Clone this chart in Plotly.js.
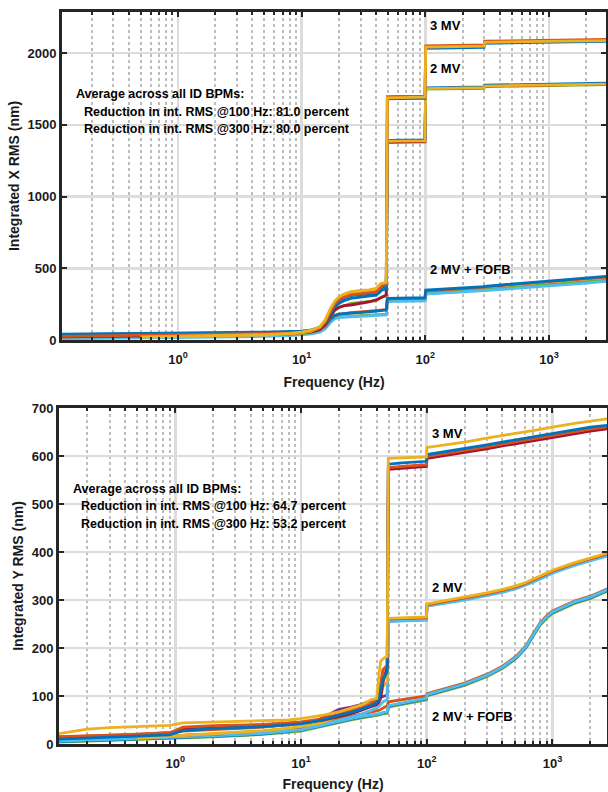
<!DOCTYPE html>
<html><head><meta charset="utf-8">
<script src="https://cdn.plot.ly/plotly-3.0.1.min.js"></script>
<style>html,body{margin:0;padding:0;background:#fff}#chart{width:608px;height:792px}</style>
</head><body><div id="chart"></div>
<script>
// ---------- X plane (top) ----------
const fx = [0.116, 0.2, 0.5, 1, 2, 5, 8, 10, 12, 14, 15.5, 17, 18.5, 20, 22, 25, 30, 35, 40, 43, 45, 48.3, 49.3, 60, 80, 99.3, 100.7, 150, 200, 298, 302, 500, 1000, 2000, 3000];

const x3Blue   = [40, 43, 46, 49, 52, 55, 58, 62, 70, 88, 125, 190, 245, 275, 295, 310, 316, 320, 325, 350, 370, 375, 1680, 1682, 1683, 1684, 2032, 2035, 2037, 2040, 2068, 2071, 2075, 2079, 2082];
const x3Orange = [25, 28, 31, 34, 38, 43, 48, 55, 65, 85, 125, 195, 250, 280, 300, 315, 322, 328, 335, 360, 380, 388, 1696, 1698, 1699, 1700, 2050, 2052, 2054, 2056, 2083, 2086, 2089, 2092, 2095];
const x3Yellow = [null, null, 22, 26, 31, 38, 46, 55, 68, 92, 140, 215, 270, 300, 320, 337, 345, 350, 360, 390, 397, 400, 1688, 1690, 1691, 1692, 2042, 2044, 2046, 2048, 2075, 2078, 2081, 2084, 2087];

const x2Blue   = [30, 33, 36, 40, 43, 47, 52, 58, 66, 84, 120, 180, 230, 255, 275, 290, 298, 305, 312, 335, 350, 355, 1390, 1392, 1393, 1394, 1758, 1760, 1762, 1764, 1776, 1779, 1783, 1787, 1790];
const x2Green  = [20, 22, 25, 28, 32, 36, 40, 45, 52, 68, 100, 160, 205, 225, 240, 255, 262, 268, 275, 290, 300, 305, 1375, 1377, 1378, 1379, 1748, 1750, 1752, 1754, 1766, 1769, 1773, 1777, 1780];
const x2Red    = [22, 24, 27, 30, 34, 38, 43, 48, 56, 72, 105, 165, 210, 228, 240, 244, 255, 265, 279, 292, 302, 314, 1380, 1382, 1383, 1384, 1752, 1754, 1756, 1758, 1770, 1773, 1777, 1781, 1784];
const x2Yellow = [null, null, 20, 24, 29, 35, 42, 50, 62, 85, 130, 205, 260, 290, 310, 325, 333, 340, 350, 378, 390, 395, 1384, 1386, 1387, 1388, 1752, 1754, 1756, 1758, 1770, 1773, 1777, 1780, 1783];

const xfGreen  = [15, 17, 20, 23, 27, 31, 35, 40, 47, 60, 82, 125, 152, 160, 165, 167, 170, 172, 175, 178, 180, 181, 272, 274, 276, 278, 328, 335, 342, 350, 352, 366, 385, 404, 418];
const xfCyan   = [8, 10, 13, 16, 20, 25, 30, 35, 42, 55, 78, 120, 148, 156, 160, 162, 165, 167, 169, 172, 174, 175, 267, 269, 271, 273, 320, 328, 335, 343, 345, 358, 376, 396, 411];
const xfOrange = [28, 30, 33, 36, 39, 43, 47, 52, 59, 73, 96, 140, 168, 178, 184, 190, 195, 200, 205, 208, 210, 212, 286, 288, 290, 292, 343, 350, 358, 368, 370, 386, 406, 426, 438];
const xfBlue   = [38, 40, 42, 44, 46, 48, 51, 55, 62, 76, 100, 145, 172, 180, 184, 186, 190, 196, 202, 206, 208, 210, 290, 292, 294, 296, 348, 355, 362, 372, 374, 390, 412, 432, 445];

// ---------- Y plane (bottom) ----------
const fy = [0.116, 0.2, 0.3, 0.5, 0.9, 1.15, 2, 5, 8, 10, 15, 20, 25, 30, 36, 40, 41.5, 43, 45, 48.5, 49.5, 60, 80, 99.3, 100.7, 150, 200, 300, 400, 520, 620, 700, 800, 900, 1000, 1500, 2000, 3000];

const yfGreen  = [4, 6, 7, 9, 11, 13, 15, 20, 24, 27, 37, 45, 50, 54, 57, 59, 60, 61, 63, 64, 77, 81, 87, 92, 100, 112, 122, 140, 157, 179, 201, 224, 248, 262, 272, 293, 303, 323];
const yfBlue   = [5, 7, 8, 10, 12, 14, 16, 21, 26, 29, 39, 47, 52, 56, 59, 61, 62, 63, 65, 66, 79, 83, 89, 94, 102, 114, 124, 142, 159, 181, 203, 226, 250, 264, 274, 295, 305, 325];
const yfRed    = [9, 11, 12, 14, 16, 18, 20, 26, 31, 34, 45, 53, 58, 62, 66, 69, 70, 72, 75, 80, 88, 91, 96, 100, 105, 117, 127, 145, 162, 184, 206, 229, 253, 267, 277, 298, 308, 328];
const yfCyan   = [6, 8, 9, 11, 13, 15, 17, 22, 27, 30, 40, 48, 53, 57, 60, 62, 63, 64, 66, 67, 80, 84, 90, 95, 103, 115, 125, 143, 160, 182, 204, 227, 251, 265, 275, 296, 306, 326];

const y2Purple = [10, 12, 13, 14, 16, 17, 20, 25, 30, 33, 55, 72, 77, 82, 90, 94, 96, 98, 100, 102, 256, 257, 258, 259, 288, 296, 302, 311, 318, 326, 333, 339, 346, 352, 358, 374, 383, 397];
const y2Cyan   = [7, 9, 11, 15, 17, 18, 20, 24, 28, 30, 40, 50, 56, 62, 70, 75, 78, 82, 88, 92, 255, 256, 257, 258, 287, 294, 300, 309, 316, 324, 331, 337, 344, 350, 356, 372, 381, 395];
const y2Orange = [15, 17, 18, 20, 24, 27, 30, 35, 40, 43, 52, 62, 70, 75, 82, 88, 95, 125, 155, 162, 260, 261, 262, 263, 290, 298, 304, 313, 320, 328, 335, 341, 348, 354, 360, 376, 385, 399];
const y2Yellow = [null, null, null, 12, 16, 19, 22, 28, 33, 36, 45, 58, 66, 72, 82, 88, 92, 100, 120, 130, 262, 263, 264, 265, 292, 300, 306, 315, 322, 330, 337, 343, 350, 356, 362, 378, 387, 401];

const y3Red    = [12, 14, 16, 18, 22, 33, 36, 39, 42, 44, 50, 57, 63, 70, 78, 82, 86, 95, 130, 160, 572, 574, 576, 578, 595, 602, 607, 615, 621, 626, 629, 632, 634, 637, 639, 647, 652, 658];
const y3Orange = [14, 16, 18, 20, 23, 35, 38, 41, 44, 46, 53, 62, 68, 74, 84, 90, 96, 120, 155, 164, 576, 578, 580, 582, 599, 606, 611, 619, 625, 630, 633, 636, 638, 641, 643, 651, 656, 662];
const y3Blue   = [10, 12, 14, 16, 19, 28, 32, 36, 40, 42, 50, 60, 66, 72, 80, 86, 92, 110, 135, 150, 583, 585, 587, 589, 603, 610, 615, 623, 629, 634, 637, 640, 642, 645, 647, 655, 660, 665];
const y3Yellow = [21, 31, 34, 36, 39, 44, 46, 48, 50, 53, 60, 67, 75, 81, 92, 95, 140, 172, 178, 182, 595, 596, 597, 598, 618, 624, 629, 637, 643, 648, 651, 653, 656, 658, 660, 668, 673, 679];

// tick labels
const majorVals = [1, 10, 100, 1000];
const majorText = ['10<sup>0</sup>', '10<sup>1</sup>', '10<sup>2</sup>', '10<sup>3</sup>'];
const yTopTicks = [0, 500, 1000, 1500, 2000];
const yBotTicks = [0, 100, 200, 300, 400, 500, 600, 700];

const C = {B:'#0072BD', O:'#D95319', Y:'#EDB120', P:'#7E2F8E', G:'#77AC30', C:'#4DBEEE', R:'#A2142F'};
const LW = 2.8;
function tr(x, y, col, xa, ya) {
  return {x: x, y: y, type: 'scatter', mode: 'lines', xaxis: xa, yaxis: ya,
          line: {color: col, width: LW}, connectgaps: false, hoverinfo: 'skip', showlegend: false};
}
const data = [
  tr(fx, xfGreen, C.G, 'x', 'y'), tr(fx, xfCyan, C.C, 'x', 'y'), tr(fx, xfOrange, C.O, 'x', 'y'), tr(fx, xfBlue, C.B, 'x', 'y'),
  tr(fx, x2Green, C.G, 'x', 'y'), tr(fx, x2Red, C.R, 'x', 'y'), tr(fx, x2Blue, C.B, 'x', 'y'), tr(fx, x2Yellow, C.Y, 'x', 'y'),
  tr(fx, x3Blue, C.B, 'x', 'y'), tr(fx, x3Orange, C.O, 'x', 'y'), tr(fx, x3Yellow, C.Y, 'x', 'y'),
  tr(fy, yfGreen, C.G, 'x2', 'y2'), tr(fy, yfBlue, C.B, 'x2', 'y2'), tr(fy, yfRed, C.O, 'x2', 'y2'), tr(fy, yfCyan, C.C, 'x2', 'y2'),
  tr(fy, y2Purple, C.P, 'x2', 'y2'), tr(fy, y2Cyan, C.C, 'x2', 'y2'), tr(fy, y2Orange, C.O, 'x2', 'y2'), tr(fy, y2Yellow, C.Y, 'x2', 'y2'),
  tr(fy, y3Red, C.R, 'x2', 'y2'), tr(fy, y3Orange, C.O, 'x2', 'y2'), tr(fy, y3Blue, C.B, 'x2', 'y2'), tr(fy, y3Yellow, C.Y, 'x2', 'y2')
];

const minorVals = [];
[0.1, 1, 10, 100, 1000].forEach(d => { for (let k = 2; k <= 9; k++) minorVals.push(d * k); });

const W = 608, H = 792;
const FONT = 'Liberation Sans, Arial, Helvetica, sans-serif';
const AX = '#262626';
function xax(dom, rng, anchor) {
  return {type: 'log', domain: dom, range: rng, anchor: anchor,
    tickmode: 'array', tickvals: majorVals, ticktext: majorText,
    ticks: 'inside', ticklen: 5, tickwidth: 2, tickcolor: AX, ticklabelstandoff: 5,
    showline: true, linecolor: AX, linewidth: 3, mirror: 'ticks',
    showgrid: true, gridcolor: '#dcdcdc', gridwidth: 2.5, zeroline: false,
    minor: {tickmode: 'array', tickvals: minorVals, ticks: 'inside', ticklen: 3, tickwidth: 2, tickcolor: AX,
            showgrid: true, gridcolor: '#bdbdbd', gridwidth: 2, griddash: 'dot'},
    tickfont: {family: FONT, size: 13, color: '#1a1a1a', weight: 'bold'},
    title: {text: 'Frequency (Hz)', font: {family: FONT, size: 14, color: '#1a1a1a', weight: 'bold'}, standoff: 12}
  };
}
function yax(dom, rng, ticks, anchor, label) {
  return {domain: dom, range: rng, anchor: anchor,
    tickmode: 'array', tickvals: ticks,
    ticks: 'inside', ticklen: 5, tickwidth: 2, tickcolor: AX,
    showline: true, linecolor: AX, linewidth: 3, mirror: 'ticks',
    showgrid: true, gridcolor: '#dcdcdc', gridwidth: 2.5, zeroline: false,
    tickfont: {family: FONT, size: 13, color: '#1a1a1a', weight: 'bold'},
    title: {text: label, font: {family: FONT, size: 14, color: '#1a1a1a', weight: 'bold'}, standoff: 5}
  };
}
function ann(text, x, y, xref, yref, size) {
  return {text: text, x: x, y: y, xref: xref, yref: yref, xanchor: 'left', yanchor: 'middle', showarrow: false,
          font: {family: FONT, size: size || 12.5, color: '#000', weight: 'bold'}};
}
const L = Math.log10;
const layout = {
  width: W, height: H, margin: {l: 0, r: 0, t: 0, b: 0},
  paper_bgcolor: '#fff', plot_bgcolor: '#fff', showlegend: false,
  font: {family: FONT, color: '#1a1a1a'},
  xaxis: xax([62 / W, 606 / W], [-0.938, 3.461], 'y'),
  yaxis: yax([1 - 340 / H, 1 - 12 / H], [0, 2286], yTopTicks, 'x', 'Integrated X RMS (nm)'),
  xaxis2: xax([59 / W, 607 / W], [-0.925, 3.434], 'y2'),
  yaxis2: yax([1 - 744 / H, 1 - 408 / H], [0, 700], yBotTicks, 'x2', 'Integrated Y RMS (nm)'),
  annotations: [
    ann('Average across all ID BPMs:', L(0.145), 1714, 'x', 'y'),
    ann('Reduction in int. RMS @100 Hz: 81.0 percent', L(0.167), 1589, 'x', 'y'),
    ann('Reduction in int. RMS @300 Hz: 80.0 percent', L(0.167), 1470, 'x', 'y'),
    ann('3 MV', L(106), 2195, 'x', 'y', 13),
    ann('2 MV', L(106), 1895, 'x', 'y', 13),
    ann('2 MV + FOFB', L(106), 488, 'x', 'y', 13),
    ann('Average across all ID BPMs:', L(0.148), 532, 'x2', 'y2'),
    ann('Reduction in int. RMS @100 Hz: 64.7 percent', L(0.172), 495, 'x2', 'y2'),
    ann('Reduction in int. RMS @300 Hz: 53.2 percent', L(0.172), 459, 'x2', 'y2'),
    ann('3 MV', L(106), 647, 'x2', 'y2', 13),
    ann('2 MV', L(106), 326, 'x2', 'y2', 13),
    ann('2 MV + FOFB', L(106), 58, 'x2', 'y2', 13)
  ]
};
Plotly.newPlot('chart', data, layout, {displayModeBar: false, staticPlot: true});
</script></body></html>
